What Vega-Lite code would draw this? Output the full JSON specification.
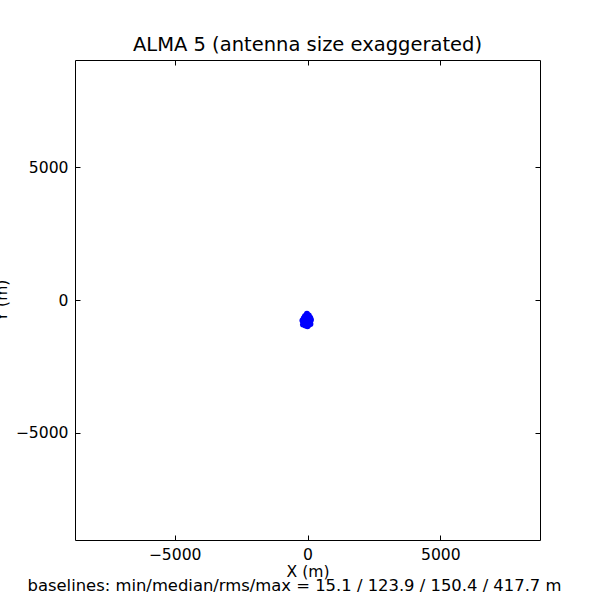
{
  "$schema": "https://vega.github.io/schema/vega-lite/v6.json",
  "autosize": "none",
  "padding": {"left": 75, "top": 60, "right": 60, "bottom": 60},
  "width": 465,
  "height": 480,
  "background": "white",
  "config": {
    "font": "DejaVu Sans",
    "view": {"stroke": "black", "strokeWidth": 1},
    "axis": {"grid": false, "domain": false, "tickColor": "black", "labelColor": "black", "titleColor": "black", "labelFontSize": 15.6, "titleFontSize": 15.6, "titleFontWeight": "normal", "labelFont": "DejaVu Sans", "titleFont": "DejaVu Sans", "format": "d"}
  },
  "title": {"text": "ALMA 5 (antenna size exaggerated)", "fontSize": 19.5, "fontWeight": "normal", "font": "DejaVu Sans", "color": "black", "anchor": "middle", "frame": "group", "baseline": "alphabetic", "offset": -11},
  "data": {"values": [
    {"x": -20, "y": -520}, {"x": 50, "y": -580}, {"x": -90, "y": -600}, {"x": 10, "y": -640},
    {"x": 100, "y": -670}, {"x": -140, "y": -690}, {"x": -40, "y": -700}, {"x": 30, "y": -720},
    {"x": 130, "y": -740}, {"x": -190, "y": -770}, {"x": -60, "y": -760}, {"x": 50, "y": -770},
    {"x": -10, "y": -790}, {"x": 100, "y": -810}, {"x": -150, "y": -830}, {"x": -50, "y": -840},
    {"x": 20, "y": -850}, {"x": 80, "y": -880}, {"x": -110, "y": -900}, {"x": -20, "y": -910},
    {"x": 40, "y": -940}, {"x": -80, "y": -960}, {"x": 0, "y": -990}, {"x": -170, "y": -920},
    {"x": 110, "y": -900}, {"x": -100, "y": -650}
  ]},
  "layer": [
    {
      "mark": {"type": "point", "filled": true, "color": "#0000ff", "size": 36, "opacity": 1},
      "encoding": {
        "x": {"field": "x", "type": "quantitative", "scale": {"domain": [-8750, 8750], "nice": false, "zero": false},
          "axis": {"orient": "bottom", "values": [-5000, 0, 5000], "tickSize": -5, "labelPadding": 12, "title": "X (m)", "titlePadding": 2}},
        "y": {"field": "y", "type": "quantitative", "scale": {"domain": [-9030, 9030], "nice": false, "zero": false},
          "axis": {"orient": "left", "values": [-5000, 0, 5000], "tickSize": -5, "labelPadding": 12, "title": "Y (m)", "titleAngle": -90, "titleX": -69, "titleY": 240, "titleAlign": "center", "titleBaseline": "alphabetic"}}
      }
    },
    {
      "mark": {"type": "point", "opacity": 0},
      "encoding": {
        "x": {"field": "x", "type": "quantitative", "scale": {"domain": [-8750, 8750], "nice": false, "zero": false},
          "axis": {"orient": "top", "values": [-5000, 0, 5000], "tickSize": -5, "labels": false, "title": null}},
        "y": {"field": "y", "type": "quantitative", "scale": {"domain": [-9030, 9030], "nice": false, "zero": false},
          "axis": {"orient": "right", "values": [-5000, 0, 5000], "tickSize": -5, "labels": false, "title": "baselines: min/median/rms/max = 15.1 / 123.9 / 150.4 / 417.7 m", "titleAngle": 0, "titleX": -246, "titleY": 525, "titleAlign": "center", "titleBaseline": "middle", "titleFontSize": 16.4}}
      }
    }
  ],
  "resolve": {"axis": {"x": "independent", "y": "independent"}}
}
